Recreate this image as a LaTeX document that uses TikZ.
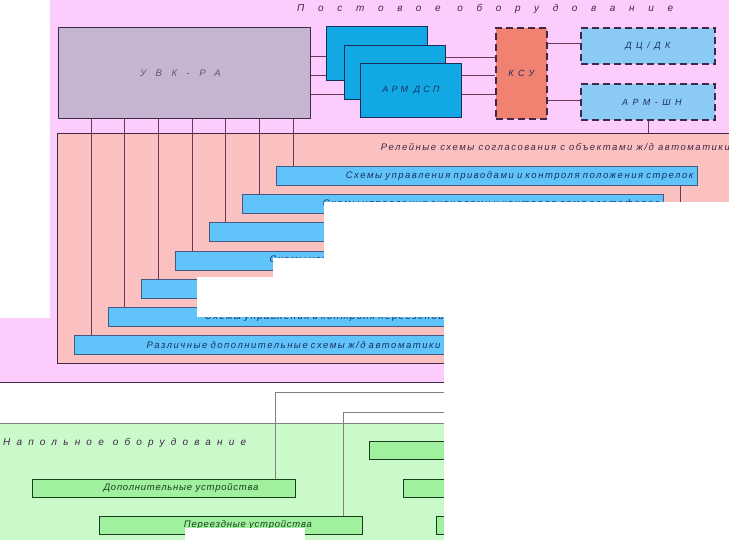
\documentclass[tikz,border=0pt]{standalone}
\usepackage{fontspec}
\setmainfont{Liberation Sans}
\usetikzlibrary{positioning}

\definecolor{postbg}{RGB}{252,204,252}
\definecolor{relaybg}{RGB}{251,192,192}
\definecolor{uvkfill}{RGB}{197,181,208}
\definecolor{armfill}{RGB}{18,168,228}
\definecolor{ksufill}{RGB}{241,130,114}
\definecolor{dcfill}{RGB}{140,202,246}
\definecolor{barfill}{RGB}{96,196,250}
\definecolor{floorbg}{RGB}{202,250,202}
\definecolor{floorbar}{RGB}{160,240,160}
\definecolor{edge}{RGB}{64,40,72}
\definecolor{tieline}{RGB}{104,56,84}
\definecolor{inkblue}{RGB}{24,48,96}
\definecolor{inkgreen}{RGB}{24,64,24}

\newcommand{\tracked}[1]{\itshape\addfontfeatures{LetterSpace=#1}}

\begin{document}
\begin{tikzpicture}[x=1pt, y=-1pt,
  every node/.style={inner sep=0pt, anchor=north west, font=\fontsize{9.5}{11}\selectfont},
  block/.style={draw=edge, line width=0.9pt},
  dashblock/.style={draw=edge, line width=1.8pt, dash pattern=on 7pt off 4pt, text=inkblue, font=\fontsize{9}{11}\selectfont\tracked{50}},
  armbox/.style={draw=inkblue, line width=0.9pt, fill=armfill, minimum width=101pt, minimum height=54pt},
  relaybar/.style={draw=inkblue!80, line width=0.8pt, fill=barfill, minimum height=19pt, inner xsep=4pt, align=right, text=inkblue, font=\fontsize{9.5}{11}\selectfont\tracked{16}},
  floorbox/.style={draw=inkgreen, line width=0.9pt, fill=floorbar, minimum width=263pt, minimum height=18pt},
  floortext/.style={anchor=center, text=inkgreen, font=\fontsize{9.5}{11}\selectfont\tracked{8}},
  tie/.style={draw=tieline, line width=0.6pt},
  floorline/.style={draw=gray, line width=0.8pt}]
\useasboundingbox (0,0) rectangle (729,539);
\clip (0,0) rectangle (729,539);
% areas
\fill[postbg] (0,0) rectangle (760,382);
\draw[edge, line width=0.9pt] (0,382) -- (760,382);
\fill[floorbg] (0,423) rectangle (760,560);
\draw[floorline] (0,423) -- (760,423);
\node[anchor=base west, text=edge, font=\fontsize{10}{11}\selectfont\tracked{137}] (posttitle) at (297,11) {Постовое оборудование};

% station equipment
\node[block, fill=uvkfill, minimum width=252pt, minimum height=91pt, text=edge!80, font=\fontsize{9.5}{11}\selectfont\tracked{100}] (uvk) at (58,27) {УВК-РА\hspace*{8pt}};
\node[dashblock, fill=ksufill, minimum width=51pt, minimum height=91pt] (ksu) at (495,27) {КСУ};
\node[dashblock, fill=dcfill, minimum width=134pt, minimum height=36pt] (dc) at (580,27) {ДЦ/ДК};
\node[dashblock, fill=dcfill, minimum width=134pt, minimum height=36pt] (armshn) at (580,83) {АРМ-ШН\hspace*{-8pt}};
\coordinate (arm1pos) at (326,26);
\coordinate (arm2pos) at (344,45);
\coordinate (arm3pos) at (360,63);
\path (arm1pos) node[armbox, opacity=0] (arm1) {} (arm2pos) node[armbox, opacity=0] (arm2) {} (arm3pos) node[armbox, opacity=0] (arm3) {};
\draw[tie] ([yshift=-29pt]uvk.north east) -- ([yshift=-29pt]uvk.north east -| arm1.west);
\draw[tie] ([yshift=-48pt]uvk.north east) -- ([yshift=-48pt]uvk.north east -| arm2.west);
\draw[tie] ([yshift=-67pt]uvk.north east) -- ([yshift=-67pt]uvk.north east -| arm3.west);
\draw[tie] ([yshift=-31pt]arm1.north east) -- ([yshift=-31pt]arm1.north east -| ksu.west);
\draw[tie] ([yshift=-30pt]arm2.north east) -- ([yshift=-30pt]arm2.north east -| ksu.west);
\draw[tie] ([yshift=-31pt]arm3.north east) -- ([yshift=-31pt]arm3.north east -| ksu.west);
\node[armbox] at (arm1pos) {};
\node[armbox] at (arm2pos) {};
\node[armbox, text=inkblue, font=\fontsize{9}{11}\selectfont\tracked{35}] at (arm3pos) {АРМ ДСП};
\draw[tie] ([yshift=-16pt]ksu.north east) -- ([yshift=-16pt]ksu.north east -| dc.west);
\draw[tie] ([yshift=-73pt]ksu.north east) -- ([yshift=-73pt]ksu.north east -| armshn.west);

% relay circuits
\node[block, fill=relaybg, minimum width=720pt, minimum height=230pt] (relay) at (57,133) {};
\node[anchor=base east, text=edge, font=\fontsize{9.5}{11}\selectfont\tracked{16}] (relaytitle) at (730,150) {Релейные схемы согласования с объектами ж/д автоматики};
\draw[tie] ([xshift=68pt]armshn.south west) -- ([xshift=68pt]armshn.south west |- relay.north);
\foreach \i/\w/\txt [evaluate=\w as \tw using \w-8] in {
  1/421/{Схемы управления приводами и контроля положения стрелок},
  2/421/{Схемы управления сигналами и контроля ламп светофоров},
  3/421/{Схемы управления и контроля маневровых сигналов},
  4/421/{Схемы увязки с автоблокировкой и смежными станциями},
  5/421/{},
  6/421/{Схемы управления и контроля переездной сигнализации},
  7/370/{Различные дополнительные схемы ж/д автоматики}} {
  \path ({276-33.67*(\i-1)},{166+28.17*(\i-1)}) coordinate (top\i);
  \draw[tie] ([xshift=17pt]top\i) coordinate (tap\i) -- (tap\i |- uvk.south);
  \node[relaybar, text width=\tw pt] (bar\i) at (top\i) {\txt};
}
\coordinate (bar1down) at (680,215);
\draw[tie] (bar1.south -| bar1down) -- (bar1down);

% floor equipment
\node[anchor=base west, text=edge, font=\fontsize{10}{11}\selectfont\tracked{62}] (floortitle) at (3,445) {Напольное оборудование};
\node[floorbox] (g1) at (32,479) {};
\node[floorbox] (g2) at (99,516) {};
\node[floorbox] (g3) at (369,441) {};
\node[floorbox] (g4) at (403,479) {};
\node[floorbox] (g5) at (436,516) {};
\node[floortext] (g1lab) at ([xshift=17pt]g1.center) {Дополнительные устройства};
\node[floortext] (g2lab) at ([xshift=17pt]g2.center) {Переездные устройства};
\coordinate (g1out) at (450,392);
\coordinate (g2out) at (450,412);
\draw[floorline] ([xshift=243pt]g1.north west) |- (g1out);
\draw[floorline] ([xshift=244pt]g2.north west) |- (g2out);

% blank patches
\fill[white] (0,0) rectangle (50,318);
\fill[white] (324,202) rectangle (740,258);
\fill[white] (273,258) rectangle (740,277);
\fill[white] (197,277) rectangle (740,317);
\fill[white] (444,317) rectangle (740,545);
\fill[white] (185,528) rectangle (305,545);
\end{tikzpicture}
\end{document}
